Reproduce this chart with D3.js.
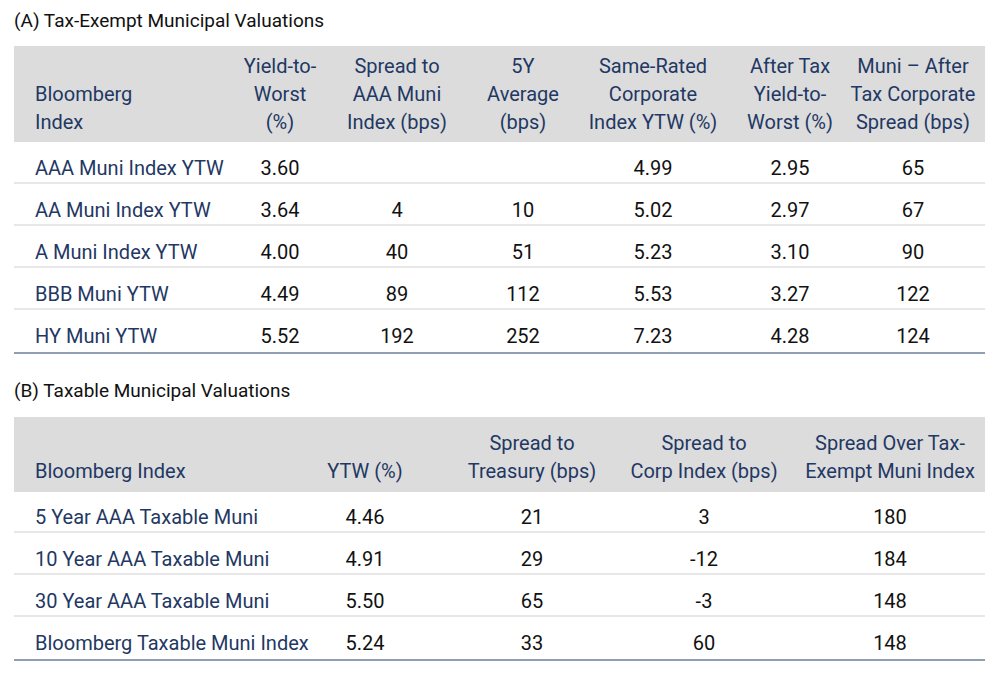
<!DOCTYPE html>
<html><head><meta charset="utf-8">
<script src="https://cdn.jsdelivr.net/npm/d3@7"></script>
<style>body{margin:0;background:#fff}svg{font-family:"Liberation Sans Narrow",Roboto,sans-serif}</style>
</head><body><div id="chart"></div>
<script>
// Table A
const headA = [["Bloomberg","Index"],["Yield-to-","Worst","(%)"],["Spread to","AAA Muni","Index (bps)"],["5Y","Average","(bps)"],["Same-Rated","Corporate","Index YTW (%)"],["After Tax","Yield-to-","Worst (%)"],["Muni – After","Tax Corporate","Spread (bps)"]];
const rowsA = ["AAA Muni Index YTW","AA Muni Index YTW","A Muni Index YTW","BBB Muni YTW","HY Muni YTW"];
const ytwA = ["3.60","3.64","4.00","4.49","5.52"];
const spreadAAA = ["","4","40","89","192"];
const avg5y = ["","10","51","112","252"];
const corpYtw = ["4.99","5.02","5.23","5.53","7.23"];
const afterTax = ["2.95","2.97","3.10","3.27","4.28"];
const muniSpread = ["65","67","90","122","124"];
// Table B
const headB = [["Bloomberg Index"],["YTW (%)"],["Spread to","Treasury (bps)"],["Spread to","Corp Index (bps)"],["Spread Over Tax-","Exempt Muni Index"]];
const rowsB = ["5 Year AAA Taxable Muni","10 Year AAA Taxable Muni","30 Year AAA Taxable Muni","Bloomberg Taxable Muni Index"];
const ytwB = ["4.46","4.91","5.50","5.24"];
const spreadTsy = ["21","29","65","33"];
const spreadCorp = ["3","-12","-3","60"];
const spreadTaxEx = ["180","184","148","148"];

const svg = d3.select("#chart").append("svg").attr("width",1000).attr("height",675);
const blue = "#1f3864";

function table(o) {
  const g = svg.append("g");
  g.append("text").attr("x",14).attr("y",o.titleY).attr("font-size",19).attr("fill","#111").text(o.title);
  g.append("rect").attr("x",14).attr("y",o.headTop).attr("width",971).attr("height",o.headBot-o.headTop).attr("fill","#dcdcdc");
  const nl = d3.max(o.head, h => h.length);
  o.head.forEach((h,i) => {
    h.forEach((t,j) => {
      g.append("text").attr("x",o.cols[i]).attr("y",o.headLastY-(h.length-1-j)*28)
        .attr("text-anchor", i===0 ? "start" : "middle").attr("font-size",20).attr("fill",blue).text(t);
    });
  });
  const y = d3.scalePoint().domain(o.rows).range([o.firstRowY, o.firstRowY+(o.rows.length-1)*42]);
  o.rows.forEach((r,k) => {
    g.append("text").attr("x",o.cols[0]).attr("y",y(r)+7).attr("font-size",20).attr("fill",blue).text(r);
    o.values.forEach((arr,c) => {
      g.append("text").attr("x",o.cols[c+1]).attr("y",y(r)+7).attr("text-anchor","middle").attr("font-size",20).attr("fill","#111").text(arr[k]);
    });
    const last = k===o.rows.length-1;
    g.append("line").attr("x1",14).attr("x2",985).attr("y1",y(r)+(last?17:15)).attr("y2",y(r)+(last?17:15))
      .attr("stroke", last ? "#6d7f9c" : "#d0d0d0").attr("stroke-width", last?1.5:1.2);
  });
}

table({title:"(A) Tax-Exempt Municipal Valuations", titleY:27, headTop:46, headBot:142, headLastY:129,
  head:headA, rows:rowsA, firstRowY:168, cols:[35,280,397,523,653,790,913],
  values:[ytwA,spreadAAA,avg5y,corpYtw,afterTax,muniSpread]});
table({title:"(B) Taxable Municipal Valuations", titleY:397, headTop:417, headBot:492, headLastY:478,
  head:headB, rows:rowsB, firstRowY:517, cols:[35,365,532,704,890],
  values:[ytwB,spreadTsy,spreadCorp,spreadTaxEx]});
</script></body></html>
